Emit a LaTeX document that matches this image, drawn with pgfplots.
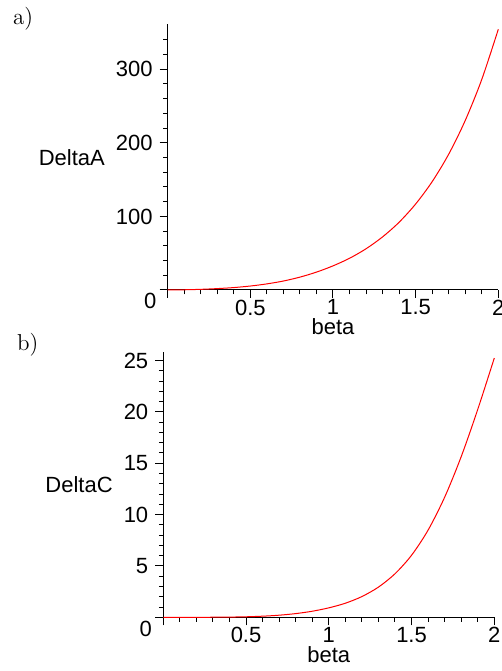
\documentclass[border=0pt]{standalone}
\usepackage{fontspec}
\usepackage{pgfplots}
\pgfplotsset{compat=1.18}
\newfontfamily\lsans{Liberation Sans}

\pgfplotstableread{
beta DeltaA
0.0 0
0.1 0.3
0.2 0.9
0.3 1.9
0.4 3.3
0.5 5.4
0.6 8.3
0.7 12.2
0.8 17.5
0.9 24.3
1.0 32.8
1.1 43.1
1.2 56.05
1.3 72.2
1.4 92.1
1.5 116.9
1.6 147.3
1.7 184.6
1.8 230.4
1.9 286.2
2.0 354.3
}\tabA
\pgfplotstableread{
beta DeltaC
0.0 0
0.1 0.0001
0.2 0.001
0.3 0.006
0.4 0.02
0.5 0.05
0.6 0.108
0.7 0.205
0.8 0.36
0.9 0.59
1.0 0.92
1.1 1.37
1.2 2.02
1.3 2.94
1.4 4.24
1.5 6.04
1.6 8.49
1.7 11.69
1.8 15.64
1.9 20.24
2.0 25.24
}\tabC

\begin{document}
\begin{tikzpicture}
\path[use as bounding box] (0pt,0pt) rectangle (251pt,335.5pt);
\pgfplotsset{
 mystyle/.style={
  scale only axis,
  axis x line=bottom, axis y line=left,
  axis line style={-, line width=0.5pt, black},
  tick style={line width=0.5pt, black},
  tick align=outside,
  major tick length=4pt, minor tick length=2.2pt,
  xmin=0, xmax=2, ymin=0,
  xtick={0,0.5,1,1.5,2}, xticklabels={,0.5,1,1.5,2},
  minor xtick={0.1,0.2,0.3,0.4,0.6,0.7,0.8,0.9,1.1,1.2,1.3,1.4,1.6,1.7,1.8,1.9},
  font=\lsans\fontsize{11}{13}\selectfont,
  tick label style={font=\lsans\fontsize{11}{13}\selectfont, /pgf/number format/assume math mode=true},
  xticklabel style={inner sep=0.5pt, yshift=-0.17pt},
  every axis y label/.style={at={(ticklabel cs:0.5)}, anchor=east, inner sep=2pt},
  every axis x label/.style={at={(axis description cs:0.5,0)}, anchor=north, inner sep=0pt, yshift=-14.3pt},
  xlabel=beta,
  clip=false,
 }
}
\begin{axis}[mystyle, at={(83.85pt,190.5pt)}, anchor=south west,
  width=165.3pt, height=132.8pt, ymax=361,
  ytick={0,100,200,300}, yticklabels={,100,200,300},
  minor ytick={20,40,60,80,120,140,160,180,220,240,260,280,320,340},
  ylabel=DeltaA]
\addplot[red, line width=0.5pt, smooth] table[x=beta, y=DeltaA] {\tabA};
\node[anchor=north east, inner sep=0pt, font=\lsans\fontsize{11}{13}\selectfont, xshift=-5.5pt, yshift=-1.5pt] at (axis cs:0,0) {0};
\end{axis}
\begin{axis}[mystyle, at={(81.65pt,26.85pt)}, anchor=south west,
  width=165.5pt, height=132.5pt, ymax=25.8,
  ytick={0,5,10,15,20,25}, yticklabels={,5,10,15,20,25},
  minor ytick={1,2,3,4,6,7,8,9,11,12,13,14,16,17,18,19,21,22,23,24},
  ylabel=DeltaC]
\addplot[red, line width=0.5pt, smooth] table[x=beta, y=DeltaC] {\tabC};
\node[anchor=north east, inner sep=0pt, font=\lsans\fontsize{11}{13}\selectfont, xshift=-5.5pt, yshift=-1.5pt] at (axis cs:0,0) {0};
\end{axis}
\node[anchor=north west, inner sep=0pt, font=\fontsize{11.5}{14}\selectfont] at (6.35pt,332.2pt) {a)};
\node[anchor=north west, inner sep=0pt, font=\fontsize{11.5}{14}\selectfont] at (8.35pt,169pt) {b)};
\end{tikzpicture}
\end{document}
